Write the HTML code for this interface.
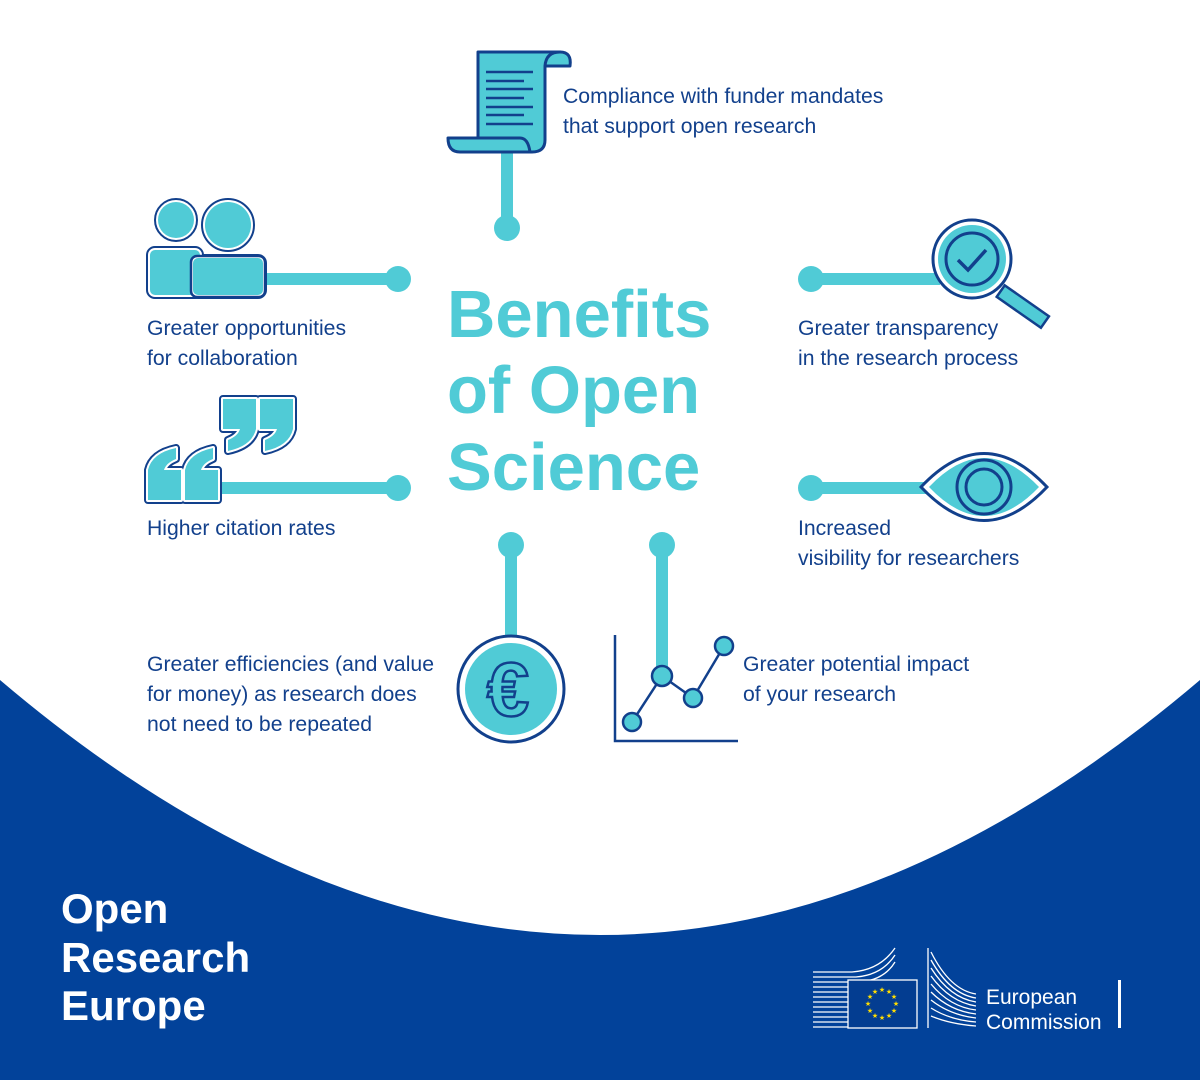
<!DOCTYPE html>
<html><head><meta charset="utf-8"><style>
html,body{margin:0;padding:0;background:#fff;}
svg{display:block;}
text{font-family:"Liberation Sans",sans-serif;}
.t{fill:#12408c;font-size:21.2px;}
</style></head><body>
<svg width="1200" height="1080" viewBox="0 0 1200 1080" xmlns="http://www.w3.org/2000/svg">
<defs>
<path id="q" d="M0,0 H33 V30 Q29,47 5,52 V41 Q15,37 17,30 H0 Z"/>
</defs>
<rect width="1200" height="1080" fill="#fff"/>
<path d="M0,680 Q600,1190 1200,680 L1200,1080 L0,1080 Z" fill="#02429a"/>

<g stroke="#50cbd6" stroke-width="12" fill="#50cbd6">
<line x1="507" y1="148" x2="507" y2="228"/><circle cx="507" cy="228" r="13" stroke="none"/>
<line x1="262" y1="279" x2="398" y2="279"/><circle cx="398" cy="279" r="13" stroke="none"/>
<line x1="215" y1="488" x2="398" y2="488"/><circle cx="398" cy="488" r="13" stroke="none"/>
<line x1="811" y1="279" x2="940" y2="279"/><circle cx="811" cy="279" r="13" stroke="none"/>
<line x1="811" y1="488" x2="930" y2="488"/><circle cx="811" cy="488" r="13" stroke="none"/>
<line x1="511" y1="545" x2="511" y2="640"/><circle cx="511" cy="545" r="13" stroke="none"/>
<line x1="662" y1="545" x2="662" y2="668"/><circle cx="662" cy="545" r="13" stroke="none"/>
</g>

<g stroke-linejoin="round">
<path d="M545,52 H560 Q572,52 570,66 H545 Z" fill="#50cbd6" stroke="#12408c" stroke-width="3"/>
<path d="M478,52 H560 Q546,52 545,66 V140 Q545,152 532,152 H470 Q478,148 478,138 Z" fill="#50cbd6" stroke="#12408c" stroke-width="3"/>
<path d="M448,138 H520 Q528,138 530,152 H460 Q448,152 448,138 Z" fill="#50cbd6" stroke="#12408c" stroke-width="3"/>
<g stroke="#12408c" stroke-width="2.5">
<line x1="486" y1="72" x2="533" y2="72"/><line x1="486" y1="81" x2="524" y2="81"/><line x1="486" y1="89" x2="533" y2="89"/><line x1="486" y1="98" x2="524" y2="98"/><line x1="486" y1="107" x2="533" y2="107"/><line x1="486" y1="115" x2="524" y2="115"/><line x1="486" y1="124" x2="533" y2="124"/>
</g>
</g>

<g>
<g stroke="#12408c" stroke-width="8"><circle cx="176" cy="220" r="18"/><circle cx="228" cy="225" r="23"/><rect x="150" y="250" width="50" height="45" rx="5"/><rect x="193" y="258" width="70" height="37" rx="5"/></g>
<g stroke="#fff" stroke-width="4"><circle cx="176" cy="220" r="18"/><circle cx="228" cy="225" r="23"/><rect x="150" y="250" width="50" height="45" rx="5"/><rect x="193" y="258" width="70" height="37" rx="5"/></g>
<g fill="#50cbd6"><circle cx="176" cy="220" r="18"/><circle cx="228" cy="225" r="23"/><rect x="150" y="250" width="50" height="45" rx="5"/></g>
<rect x="193" y="258" width="70" height="37" rx="5" fill="#50cbd6" stroke="#fff" stroke-width="4"/>
<rect x="191" y="256" width="74" height="41" rx="6" fill="none" stroke="#12408c" stroke-width="2.5"/>
<rect x="193" y="258" width="70" height="37" rx="5" fill="#50cbd6"/>
</g>

<g>
<g stroke="#12408c" stroke-width="8" stroke-linejoin="round">
<use href="#q" transform="translate(223,399)"/><use href="#q" transform="translate(260,399)"/>
<use href="#q" transform="translate(181,500) rotate(180)"/><use href="#q" transform="translate(218,500) rotate(180)"/>
</g>
<g stroke="#fff" stroke-width="4" stroke-linejoin="round">
<use href="#q" transform="translate(223,399)"/><use href="#q" transform="translate(260,399)"/>
<use href="#q" transform="translate(181,500) rotate(180)"/><use href="#q" transform="translate(218,500) rotate(180)"/>
</g>
<g fill="#50cbd6">
<use href="#q" transform="translate(223,399)"/><use href="#q" transform="translate(260,399)"/>
<use href="#q" transform="translate(181,500) rotate(180)"/><use href="#q" transform="translate(218,500) rotate(180)"/>
</g>
</g>

<g>
<g transform="rotate(35 1022 306)"><rect x="996" y="299" width="54" height="14" fill="#50cbd6" stroke="#12408c" stroke-width="2.5"/></g>
<circle cx="972" cy="259" r="39" fill="#fff" stroke="#12408c" stroke-width="3"/>
<circle cx="972" cy="259" r="34" fill="#50cbd6"/>
<circle cx="972" cy="259" r="26" fill="none" stroke="#12408c" stroke-width="3"/>
<path d="M958,260 L968,270 L986,250" fill="none" stroke="#12408c" stroke-width="3.5"/>
</g>

<g>
<path d="M921,487 Q984,420 1047,487 Q984,554 921,487 Z" fill="#fff" stroke="#12408c" stroke-width="3"/>
<path d="M929,487 Q984,429 1039,487 Q984,545 929,487 Z" fill="#50cbd6"/>
<circle cx="984" cy="487" r="27" fill="none" stroke="#12408c" stroke-width="3"/>
<circle cx="984" cy="487" r="18" fill="none" stroke="#12408c" stroke-width="3"/>
</g>

<g>
<circle cx="511" cy="689" r="53" fill="#fff" stroke="#12408c" stroke-width="3"/>
<circle cx="511" cy="689" r="46" fill="#50cbd6"/>
<text x="508" y="716" text-anchor="middle" font-size="76" font-weight="bold" fill="#50cbd6" stroke="#12408c" stroke-width="2.5">€</text>
</g>

<g>
<polyline points="615,635 615,741 738,741" fill="none" stroke="#12408c" stroke-width="2.5"/>
<polyline points="632,722 662,676 693,698 724,646" fill="none" stroke="#12408c" stroke-width="2.5"/>
<g fill="#50cbd6" stroke="#12408c" stroke-width="2.5">
<circle cx="632" cy="722" r="9"/><circle cx="662" cy="676" r="10"/><circle cx="693" cy="698" r="9"/><circle cx="724" cy="646" r="9"/>
</g>
</g>

<g fill="#50cbd6" font-weight="bold" font-size="67">
<text x="447" y="337">Benefits</text>
<text x="447" y="413">of Open</text>
<text x="447" y="490">Science</text>
</g>

<text class="t" x="563" y="103">Compliance with funder mandates</text>
<text class="t" x="563" y="133">that support open research</text>
<text class="t" x="147" y="335">Greater opportunities</text>
<text class="t" x="147" y="365">for collaboration</text>
<text class="t" x="798" y="335">Greater transparency</text>
<text class="t" x="798" y="365">in the research process</text>
<text class="t" x="147" y="535">Higher citation rates</text>
<text class="t" x="798" y="535">Increased</text>
<text class="t" x="798" y="565">visibility for researchers</text>
<text class="t" x="147" y="671">Greater efficiencies (and value</text>
<text class="t" x="147" y="701">for money) as research does</text>
<text class="t" x="147" y="731">not need to be repeated</text>
<text class="t" x="743" y="671">Greater potential impact</text>
<text class="t" x="743" y="701">of your research</text>

<g fill="#fff" font-weight="bold" font-size="42">
<text x="61" y="923">Open</text>
<text x="61" y="972">Research</text>
<text x="61" y="1020">Europe</text>
</g>

<g stroke="#fff" stroke-width="1.3" fill="none">
<path d="M813,972 H852 Q880,970 895,948"/>
<path d="M813,977 H856 Q882,975 895,955"/>
<path d="M813,982 H860 Q884,980 895,962"/>
<path d="M813,987 H895"/><path d="M813,992 H848"/><path d="M813,997 H848"/><path d="M813,1002 H848"/><path d="M813,1007 H848"/><path d="M813,1012 H848"/><path d="M813,1017 H848"/><path d="M813,1022 H848"/><path d="M813,1027 H848"/>
<path d="M928,948 V1028"/>
<path d="M931,952 Q950,990 976,994"/>
<path d="M931,960 Q950,994 976,998"/>
<path d="M931,968 Q950,998 976,1002"/>
<path d="M931,976 Q950,1002 976,1006"/>
<path d="M931,984 Q950,1007 976,1010"/>
<path d="M931,992 Q950,1011 976,1014"/>
<path d="M931,1000 Q950,1015 976,1018"/>
<path d="M931,1008 Q950,1020 976,1022"/>
<path d="M931,1016 Q950,1024 976,1026"/>
</g>
<rect x="848" y="980" width="69" height="48" fill="#033d91" stroke="#fff" stroke-width="1.3"/>
<g fill="#ffdd00" font-size="7" text-anchor="middle">
<text x="882" y="992">★</text><text x="889" y="994">★</text><text x="894" y="999">★</text><text x="896" y="1006">★</text><text x="894" y="1013">★</text><text x="889" y="1018">★</text><text x="882" y="1020">★</text><text x="875" y="1018">★</text><text x="870" y="1013">★</text><text x="868" y="1006">★</text><text x="870" y="999">★</text><text x="875" y="994">★</text>
</g>
<text x="986" y="1004" fill="#fff" font-size="21">European</text>
<text x="986" y="1029" fill="#fff" font-size="21">Commission</text>
<rect x="1118" y="980" width="3" height="48" fill="#fff"/>
</svg>
</body></html>
